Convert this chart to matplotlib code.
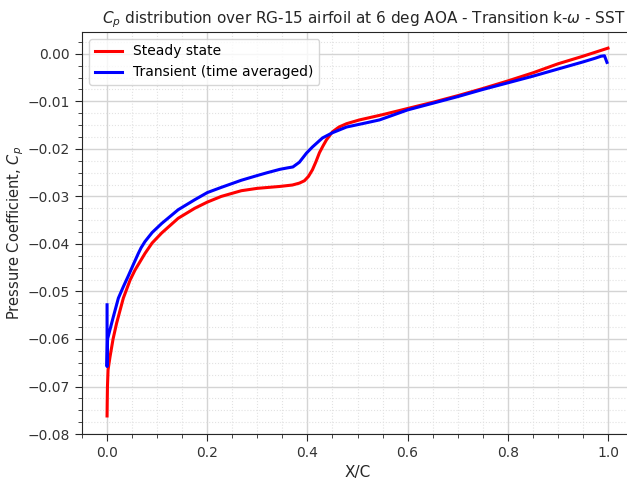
import numpy as np
import matplotlib.pyplot as plt
from matplotlib.ticker import AutoMinorLocator

# Cp along the suction side, steady solver
x_steady = [0.0, 0.0003, 0.0008, 0.002, 0.006, 0.012, 0.019, 0.0325, 0.046, 0.0558,
            0.0757, 0.09, 0.109, 0.142, 0.175, 0.2, 0.228, 0.268, 0.30, 0.345,
            0.37, 0.384, 0.394, 0.402, 0.41, 0.417, 0.424, 0.431, 0.438, 0.45,
            0.463, 0.478, 0.504, 0.55, 0.60, 0.65, 0.70, 0.75, 0.80, 0.85,
            0.90, 0.95, 1.0]
cp_steady = [-0.0762, -0.0735, -0.070, -0.0665, -0.0637, -0.0600, -0.0567, -0.0514, -0.0476, -0.0455,
             -0.0420, -0.0398, -0.0377, -0.0346, -0.0325, -0.0312, -0.0300, -0.0288, -0.0283, -0.0279,
             -0.0276, -0.0272, -0.0267, -0.0258, -0.0244, -0.0227, -0.0208, -0.0194, -0.0181, -0.0164,
             -0.0154, -0.0147, -0.0139, -0.0128, -0.0115, -0.0102, -0.0088, -0.0073, -0.0057, -0.0040,
             -0.0021, -0.0005, 0.0012]

# time averaged transient run
x_trans = [0.0, 0.0, 0.001, 0.003, 0.0126, 0.0226, 0.0325, 0.0425, 0.053, 0.0624,
           0.068, 0.0757, 0.09, 0.109, 0.142, 0.175, 0.2, 0.228, 0.268, 0.30,
           0.32, 0.345, 0.36, 0.371, 0.384, 0.398, 0.41, 0.43, 0.45, 0.478,
           0.518, 0.544, 0.60, 0.65, 0.70, 0.75, 0.80, 0.85, 0.90, 0.95,
           0.975, 0.986, 0.993, 0.998]
cp_trans = [-0.0528, -0.0658, -0.0600, -0.0592, -0.0553, -0.0514, -0.0490, -0.0467, -0.0442, -0.0420,
            -0.0408, -0.0395, -0.0376, -0.0357, -0.0328, -0.0307, -0.0292, -0.0281, -0.0266, -0.0256,
            -0.0250, -0.0243, -0.0240, -0.0238, -0.0228, -0.0209, -0.0196, -0.0177, -0.0166, -0.0154,
            -0.0145, -0.0139, -0.0118, -0.0104, -0.0090, -0.0075, -0.0061, -0.0047, -0.0032, -0.0017,
            -0.0009, -0.0005, -0.0004, -0.0018]

fig = plt.figure(figsize=(6.27, 4.79), dpi=100)
ax = fig.add_axes([0.1308, 0.0939, 0.8788, 0.8393])

ax.plot(x_steady, cp_steady, color='red', lw=2.2, label='Steady state')
ax.plot(x_trans, cp_trans, color='blue', lw=2.2, label='Transient (time averaged)')

ax.set_xlim(-0.05, 1.05)
ax.set_ylim(-0.08, 0.0046)
ax.set_xticks([0.0, 0.2, 0.4, 0.6, 0.8, 1.0])
ax.xaxis.set_minor_locator(AutoMinorLocator(4))
ax.yaxis.set_minor_locator(AutoMinorLocator(4))

ax.grid(which='major', color='#d4d4d4', lw=1, ls='-')
ax.grid(which='minor', color='#e2e2e2', lw=0.8, ls=':')
ax.set_axisbelow(True)

for s in ax.spines.values():
    s.set_color('#262626')
ax.tick_params(which='major', direction='out', length=5, color='#262626', labelcolor='#333333', labelsize=10)
ax.tick_params(which='minor', direction='out', length=3, color='#262626')

ax.set_xlabel('X/C', fontsize=11, color='#262626')
ax.set_ylabel('Pressure Coefficient, $C_p$', fontsize=10.5, color='#262626', labelpad=1)
ax.set_title(r'$C_p$ distribution over RG-15 airfoil at 6 deg AOA - Transition k-$\omega$ - SST',
             fontsize=11, color='#262626', x=0.512)
ax.legend(loc='upper left', fontsize=10)

fig.savefig('out.png', dpi=100)
